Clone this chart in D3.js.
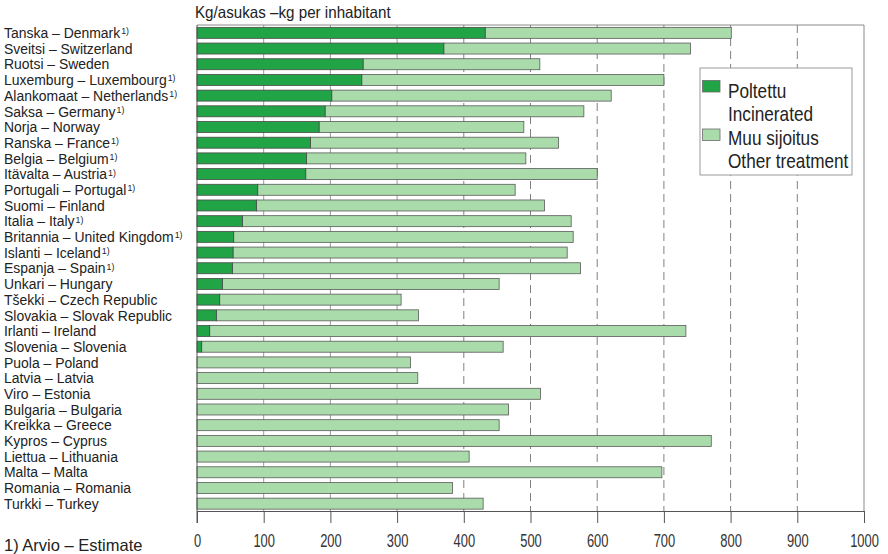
<!DOCTYPE html>
<html>
<head>
<meta charset="utf-8">
<script src="https://cdn.jsdelivr.net/npm/d3@7"></script>
<style>
  html, body { margin: 0; padding: 0; background: #fff; }
  svg { display: block; }
  text { font-family: "Liberation Sans", Arial, sans-serif; fill: #222; }
</style>
</head>
<body>
<svg id="chart" width="888" height="554"></svg>
<script>
// ---- data ----
const countries = [
  "Tanska – Denmark", "Sveitsi – Switzerland", "Ruotsi – Sweden", "Luxemburg – Luxembourg",
  "Alankomaat – Netherlands", "Saksa – Germany", "Norja – Norway", "Ranska – France",
  "Belgia – Belgium", "Itävalta – Austria", "Portugali – Portugal", "Suomi – Finland",
  "Italia – Italy", "Britannia – United Kingdom", "Islanti – Iceland", "Espanja – Spain",
  "Unkari – Hungary", "Tšekki – Czech Republic", "Slovakia – Slovak Republic", "Irlanti – Ireland",
  "Slovenia – Slovenia", "Puola – Poland", "Latvia – Latvia", "Viro – Estonia",
  "Bulgaria – Bulgaria", "Kreikka – Greece", "Kypros – Cyprus", "Liettua – Lithuania",
  "Malta – Malta", "Romania – Romania", "Turkki – Turkey"
];
const estimated = [
  true, false, false, true, true, true, false, true, true, true, true, false,
  true, true, true, true, false, false, false, false, false, false, false, false,
  false, false, false, false, false, false, false
];
const incinerated = [
  432, 370, 249, 247, 202, 192, 183, 170, 164, 163, 91, 89,
  68, 55, 54, 53, 38, 34, 29, 19, 7, 0, 0, 0,
  0, 0, 0, 0, 0, 0, 0
];
const otherTreatment = [
  369, 370, 265, 453, 419, 388, 307, 372, 329, 437, 386, 432,
  493, 509, 501, 522, 415, 272, 303, 714, 452, 320, 331, 515,
  467, 453, 771, 408, 697, 383, 429
];
const xTicks = [0, 100, 200, 300, 400, 500, 600, 700, 800, 900, 1000];
const seriesNames = [["Poltettu", "Incinerated"], ["Muu sijoitus", "Other treatment"]];
const unitTitle = "Kg/asukas –kg per inhabitant";
const footnote = "1) Arvio – Estimate";

// ---- layout ----
const svg = d3.select("#chart");
const pLeft = 197, pRight = 864, pTop = 25, pBottom = 511;
const darkGreen = "#21a446", lightGreen = "#aadcab";

const x = d3.scaleLinear().domain([0, 1000]).range([pLeft, pRight]);
const y = d3.scaleBand().domain(countries).range([pTop, pBottom + 0.5])
  .paddingInner(0.3).paddingOuter(0.15);

// gridlines
svg.append("g").selectAll("line")
  .data(xTicks.filter(d => d > 0 && d < 1000))
  .join("line")
  .attr("x1", d => x(d)).attr("x2", d => x(d))
  .attr("y1", pTop).attr("y2", pBottom)
  .attr("stroke", d => d <= 300 ? "#9a9a9a" : "#808080")
  .attr("stroke-width", 1)
  .attr("stroke-dasharray", d => d <= 300 ? null : "8,5");

// frame (top + right)
svg.append("path")
  .attr("d", `M${pLeft},${pTop}H${pRight}V${pBottom}`)
  .attr("fill", "none").attr("stroke", "#8a8a8a").attr("stroke-width", 1);

// bars
const rows = countries.map((c, i) => ({ c, inc: incinerated[i], oth: otherTreatment[i], est: estimated[i] }));
const bars = svg.append("g");
bars.selectAll("rect.oth").data(rows).join("rect")
  .attr("class", "oth")
  .attr("x", d => x(d.inc)).attr("y", d => y(d.c))
  .attr("width", d => x(d.inc + d.oth) - x(d.inc)).attr("height", y.bandwidth())
  .attr("fill", lightGreen).attr("stroke", "#5a5a5a").attr("stroke-width", 0.8);
bars.selectAll("rect.inc").data(rows.filter(d => d.inc > 0)).join("rect")
  .attr("class", "inc")
  .attr("x", x(0)).attr("y", d => y(d.c))
  .attr("width", d => x(d.inc) - x(0)).attr("height", y.bandwidth())
  .attr("fill", darkGreen).attr("stroke", "#4a4a4a").attr("stroke-width", 0.8);

// x axis
const xAxis = svg.append("g")
  .attr("transform", `translate(0,${pBottom})`)
  .call(d3.axisBottom(x).tickValues(xTicks).tickSize(12).tickSizeOuter(0).tickFormat(d3.format("d")));
xAxis.select(".domain").attr("stroke", "#555");
xAxis.selectAll(".tick line").attr("stroke", "#555");
xAxis.selectAll(".tick text")
  .attr("y", 0).attr("dy", 0)
  .attr("transform", `translate(0,${547 - pBottom}) scale(0.68,1)`)
  .style("font-size", "19px").style("fill", "#333");

// left axis line extending below
svg.append("line")
  .attr("x1", pLeft).attr("x2", pLeft).attr("y1", pTop).attr("y2", pBottom + 12)
  .attr("stroke", "#555");

// category labels
const labelScale = 0.93;
const lblG = svg.append("g");
const labels = lblG.selectAll("text.lbl").data(rows).join("text")
  .attr("class", "lbl")
  .attr("transform", d => `translate(4,${y(d.c) + y.bandwidth() / 2 + 5.2}) scale(${labelScale},1)`)
  .style("font-size", "15px")
  .text(d => d.c);
// footnote markers as separate small texts placed after each label
labels.each(function (d) {
  if (!d.est) return;
  const w = this.getComputedTextLength() * labelScale;
  lblG.append("text")
    .attr("transform", `translate(${4 + w + 1},${y(d.c) + y.bandwidth() / 2 + 1.5}) scale(${labelScale},1)`)
    .style("font-size", "9.5px")
    .text("1)");
});

// unit title
svg.append("text")
  .attr("transform", "translate(195,18) scale(0.92,1)")
  .style("font-size", "16.5px")
  .text(unitTitle);

// footnote
svg.append("text")
  .attr("transform", "translate(4,551)")
  .style("font-size", "16.5px")
  .text(footnote);

// legend
const lg = svg.append("g");
lg.append("rect").attr("x", 700).attr("y", 68).attr("width", 152).attr("height", 107)
  .attr("fill", "#fff").attr("stroke", "#9a9a9a").attr("stroke-width", 1);
const legColors = [darkGreen, lightGreen];
seriesNames.forEach((names, i) => {
  const y0 = 80.5 + i * 48.5;
  lg.append("rect").attr("x", 702.5).attr("y", y0).attr("width", 17.5).attr("height", 11.5)
    .attr("fill", legColors[i]).attr("stroke", "#6a6a6a").attr("stroke-width", 0.8);
  names.forEach((t, j) => {
    lg.append("text")
      .attr("transform", `translate(728,${98 + i * 46.5 + j * 23.3}) scale(0.86,1)`)
      .style("font-size", "20px")
      .text(t);
  });
});
</script>
</body>
</html>
